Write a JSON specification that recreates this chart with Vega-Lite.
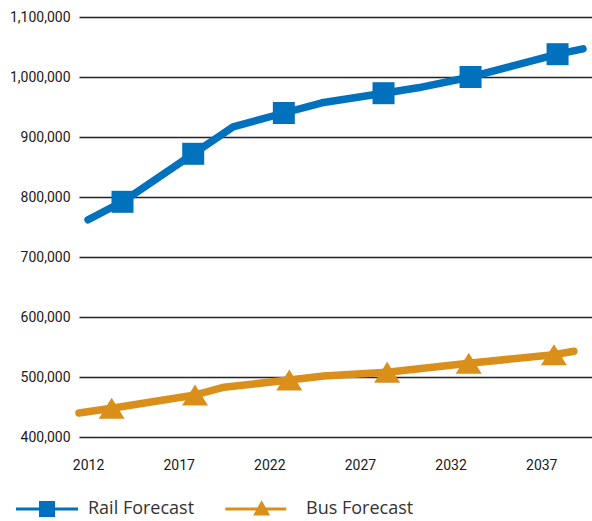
{
  "$schema": "https://vega.github.io/schema/vega-lite/v6.json",
  "width": 513,
  "height": 420,
  "autosize": "none",
  "padding": {"left": 79, "top": 17, "right": 0, "bottom": 84},
  "background": "white",
  "config": {"view": {"stroke": null}},
  "datasets": {
    "lines": [
      {"series": "Rail Forecast", "year": 2012.0, "riders": 762000},
      {"series": "Rail Forecast", "year": 2013.9, "riders": 792000},
      {"series": "Rail Forecast", "year": 2017.8, "riders": 872000},
      {"series": "Rail Forecast", "year": 2020.0, "riders": 917000},
      {"series": "Rail Forecast", "year": 2022.8, "riders": 940000},
      {"series": "Rail Forecast", "year": 2024.9, "riders": 957000},
      {"series": "Rail Forecast", "year": 2028.3, "riders": 973000},
      {"series": "Rail Forecast", "year": 2030.2, "riders": 982000},
      {"series": "Rail Forecast", "year": 2033.1, "riders": 1000000},
      {"series": "Rail Forecast", "year": 2037.9, "riders": 1038000},
      {"series": "Rail Forecast", "year": 2039.3, "riders": 1047000},
      {"series": "Bus Forecast", "year": 2011.5, "riders": 440000},
      {"series": "Bus Forecast", "year": 2013.3, "riders": 448000},
      {"series": "Bus Forecast", "year": 2017.9, "riders": 470000},
      {"series": "Bus Forecast", "year": 2019.5, "riders": 483000},
      {"series": "Bus Forecast", "year": 2023.1, "riders": 495000},
      {"series": "Bus Forecast", "year": 2025.0, "riders": 501500},
      {"series": "Bus Forecast", "year": 2028.5, "riders": 508000},
      {"series": "Bus Forecast", "year": 2033.0, "riders": 523000},
      {"series": "Bus Forecast", "year": 2037.7, "riders": 537000},
      {"series": "Bus Forecast", "year": 2038.8, "riders": 543000}
    ],
    "markers": [
      {"series": "Rail Forecast", "year": 2013.9, "riders": 792000},
      {"series": "Rail Forecast", "year": 2017.8, "riders": 872000},
      {"series": "Rail Forecast", "year": 2022.8, "riders": 940000},
      {"series": "Rail Forecast", "year": 2028.3, "riders": 973000},
      {"series": "Rail Forecast", "year": 2033.1, "riders": 1000000},
      {"series": "Rail Forecast", "year": 2037.9, "riders": 1038000},
      {"series": "Bus Forecast", "year": 2013.3, "riders": 448000},
      {"series": "Bus Forecast", "year": 2017.9, "riders": 470000},
      {"series": "Bus Forecast", "year": 2023.1, "riders": 495000},
      {"series": "Bus Forecast", "year": 2028.5, "riders": 508000},
      {"series": "Bus Forecast", "year": 2033.0, "riders": 523000},
      {"series": "Bus Forecast", "year": 2037.7, "riders": 537000}
    ]
  },
  "encoding": {
    "x": {
      "field": "year", "type": "quantitative",
      "scale": {"domain": [2011.5, 2039.8], "nice": false, "zero": false},
      "axis": {
        "values": [2012, 2017, 2022, 2027, 2032, 2037], "format": "d",
        "grid": false, "domain": false, "ticks": false, "tickSize": 0,
        "labelPadding": 21, "title": null,
        "labelFont": "Roboto", "labelFontSize": 14, "labelColor": "#1a1a1a"
      }
    },
    "y": {
      "field": "riders", "type": "quantitative",
      "scale": {"domain": [400000, 1100000], "nice": false, "zero": false},
      "axis": {
        "values": [400000, 500000, 600000, 700000, 800000, 900000, 1000000, 1100000],
        "format": ",d", "grid": true, "gridColor": "#222", "gridWidth": 1.3,
        "domain": false, "ticks": false, "tickSize": 0, "labelPadding": 9, "title": null,
        "labelFont": "Roboto", "labelFontSize": 14, "labelColor": "#1a1a1a"
      }
    },
    "color": {
      "field": "series", "type": "nominal",
      "scale": {"domain": ["Rail Forecast", "Bus Forecast"], "range": ["#0071BC", "#D98F1A"]},
      "legend": {
        "orient": "none", "legendX": -41, "legendY": 483, "direction": "horizontal",
        "title": null, "padding": 0, "symbolSize": 256, "symbolStrokeWidth": 0,
        "labelOffset": 32, "columnPadding": 30,
        "labelFont": "Open Sans", "labelFontSize": 18, "labelColor": "#333",
        "encode": {
          "symbols": {
            "update": {
              "shape": {"signal": "datum.value === 'Rail Forecast' ? 'M-3.875,-0.19L3.875,-0.19L3.875,0.19L-3.875,0.19ZM-1,-1L1,-1L1,1L-1,1Z' : 'M-4.96,-0.19L2.66,-0.19L2.66,0.19L-4.96,0.19ZM-0.42,-1.1L0.64,0.8L-1.48,0.8Z'"},
              "fill": {"signal": "datum.value === 'Rail Forecast' ? '#0071BC' : '#D98F1A'"},
              "stroke": {"value": "transparent"},
              "strokeWidth": {"value": 0},
              "opacity": {"value": 1}
            }
          }
        }
      }
    }
  },
  "layer": [
    {
      "data": {"name": "lines"},
      "mark": {"type": "line", "strokeWidth": 7.5, "strokeCap": "round", "strokeJoin": "round"}
    },
    {
      "data": {"name": "markers"},
      "transform": [{"filter": "datum.series === 'Rail Forecast'"}],
      "mark": {"type": "point", "shape": "square", "filled": true, "size": 484, "opacity": 1}
    },
    {
      "data": {"name": "markers"},
      "transform": [{"filter": "datum.series === 'Bus Forecast'"}],
      "mark": {"type": "point", "shape": "M0,-0.95L1.18,0.95L-1.18,0.95Z", "filled": true, "size": 484, "opacity": 1}
    }
  ]
}
